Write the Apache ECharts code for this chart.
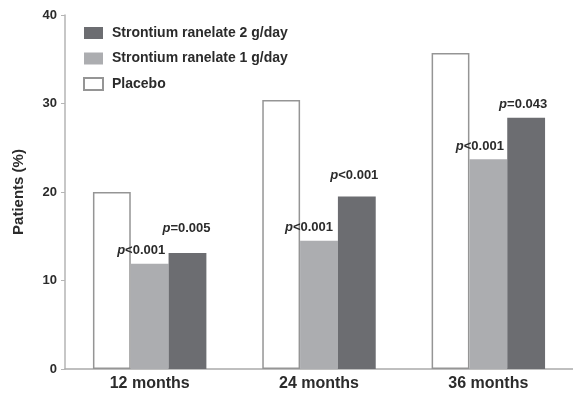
<!DOCTYPE html>
<html>
<head>
<meta charset="utf-8">
<script src="https://cdn.jsdelivr.net/npm/echarts@6/dist/echarts.min.js"></script>
<style>html,body{margin:0;padding:0;background:#fff;}#c{width:573px;height:394px;}</style>
</head>
<body>
<div id="c"></div>
<script>
const categories = ['12 months', '24 months', '36 months'];
const seriesNames = ['Strontium ranelate 2 g/day', 'Strontium ranelate 1 g/day', 'Placebo'];
const placebo = [20.0, 30.4, 35.7];
const sr1g = [11.9, 14.5, 23.7];
const sr2g = [13.1, 19.5, 28.4];
const pSr1g = ['<0.001', '<0.001', '<0.001'];
const pSr2g = ['=0.005', '<0.001', '=0.043'];
const yTicks = [0, 10, 20, 30, 40];

// label placement (styling, not data)
const off1g = [[-8.5, -1.5], [-10, -2], [-8.5, -1]];
const off2g = [[-1, -13.5], [-2.5, -10], [-3, -2]];

const font = 'Liberation Sans, Arial, sans-serif';
const txt = '#2b2b2b';

function withLabels(vals, ps, offs) {
  return vals.map((v, i) => ({
    value: v,
    label: { show: true, position: 'top', distance: 5, offset: offs[i], formatter: '{i|p}{b|' + ps[i] + '}' }
  }));
}
const labelRich = {
  i: { fontStyle: 'italic', fontWeight: 'bold', fontSize: 13, fontFamily: font, color: txt },
  b: { fontWeight: 'bold', fontSize: 13, fontFamily: font, color: txt }
};

const chart = echarts.init(document.getElementById('c'), null, { renderer: 'canvas' });
chart.setOption({
  animation: false,
  backgroundColor: '#fff',
  grid: { left: 65, right: -6.5, top: 15, bottom: 25, containLabel: false },
  legend: {
    orient: 'vertical', left: 83, top: 26, padding: 0,
    itemWidth: 19, itemHeight: 12, itemGap: 11.5,
    data: seriesNames,
    textStyle: { fontFamily: font, fontSize: 14, fontWeight: 'bold', color: txt, padding: [0, 0, 0, 4] },
    icon: 'rect'
  },
  xAxis: {
    type: 'category', data: categories,
    axisLine: { lineStyle: { color: '#ababab', width: 1.5 } },
    axisTick: { show: false },
    axisLabel: { fontFamily: font, fontSize: 16, fontWeight: 'bold', color: txt, margin: 7 }
  },
  yAxis: {
    type: 'value', min: yTicks[0], max: yTicks[yTicks.length - 1], interval: 10,
    name: 'Patients (%)', nameLocation: 'middle', nameGap: 39, nameRotate: 90,
    nameTextStyle: { fontFamily: font, fontSize: 15, fontWeight: 'bold', color: txt },
    axisLine: { show: true, lineStyle: { color: '#b5b5b5', width: 1.5 } },
    axisTick: { show: true, length: 4, lineStyle: { color: '#b5b5b5' } },
    splitLine: { show: false },
    axisLabel: { fontFamily: font, fontSize: 13, fontWeight: 'bold', color: txt, margin: 8 }
  },
  series: [
    {
      name: seriesNames[2], type: 'bar', data: placebo,
      barGap: '0%', barCategoryGap: '33%',
      itemStyle: { color: '#ffffff', borderColor: '#959595', borderWidth: 1.5 }
    },
    {
      name: seriesNames[1], type: 'bar', data: withLabels(sr1g, pSr1g, off1g),
      itemStyle: { color: '#acadb0' },
      label: { rich: labelRich }
    },
    {
      name: seriesNames[0], type: 'bar', data: withLabels(sr2g, pSr2g, off2g),
      itemStyle: { color: '#6c6d71' },
      label: { rich: labelRich }
    }
  ]
});
</script>
</body>
</html>
